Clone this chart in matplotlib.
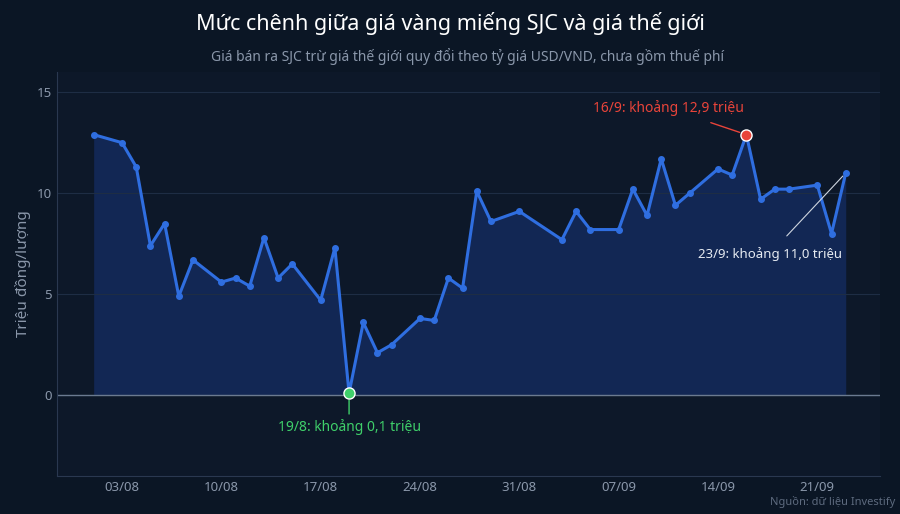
import matplotlib
matplotlib.use("Agg")
import matplotlib.pyplot as plt
import pandas as pd

plt.rcParams['font.family'] = ['Noto Sans', 'DejaVu Sans']

dates = ["2024-08-01","2024-08-03","2024-08-04","2024-08-05","2024-08-06","2024-08-07","2024-08-08",
         "2024-08-10","2024-08-11","2024-08-12","2024-08-13","2024-08-14","2024-08-15","2024-08-17",
         "2024-08-18","2024-08-19","2024-08-20","2024-08-21","2024-08-22","2024-08-24","2024-08-25",
         "2024-08-26","2024-08-27","2024-08-28","2024-08-29","2024-08-31","2024-09-03","2024-09-04",
         "2024-09-05","2024-09-07","2024-09-08","2024-09-09","2024-09-10","2024-09-11","2024-09-12",
         "2024-09-14","2024-09-15","2024-09-16","2024-09-17","2024-09-18","2024-09-19","2024-09-21",
         "2024-09-22","2024-09-23"]
values = [12.9,12.5,11.3,7.4,8.5,4.9,6.7,5.6,5.8,5.4,7.8,5.8,6.5,4.7,7.3,0.1,3.6,2.1,2.5,3.8,3.7,
          5.8,5.3,10.1,8.6,9.1,7.7,9.1,8.2,8.2,10.2,8.9,11.7,9.4,10.0,11.2,10.9,12.9,9.7,10.2,10.2,
          10.4,8.0,11.0]
tick_dates = ["2024-08-03","2024-08-10","2024-08-17","2024-08-24","2024-08-31","2024-09-07","2024-09-14","2024-09-21"]
tick_labels = ["03/08","10/08","17/08","24/08","31/08","07/09","14/09","21/09"]
min_date = "2024-08-19"
max_date = "2024-09-16"

x = pd.to_datetime(dates)
bg = "#0b1625"
fig = plt.figure(figsize=(9, 5.14), dpi=100, facecolor=bg)
ax = fig.add_axes([57/900, 38/514, 823/900, 404/514], facecolor="#0d1829")

line = "#2f6ee0"
ax.fill_between(x, values, 0, color="#1a3a8a", alpha=0.45, lw=0)
ax.plot(x, values, color=line, lw=2.2, marker="o", ms=4, zorder=3)
ax.axhline(0, color="#6b7a90", lw=1)

ax.set_ylim(-4, 16)
ax.set_xlim(pd.Timestamp("2024-07-29 10:00"), pd.Timestamp("2024-09-25 10:00"))
ax.set_yticks([0, 5, 10, 15])
ax.set_xticks(pd.to_datetime(tick_dates))
ax.set_xticklabels(tick_labels)
ax.grid(axis="y", color="#1e2d44", lw=0.8)
ax.tick_params(colors="#8a97aa", labelsize=9.5, length=0)
for s in ["top", "right"]:
    ax.spines[s].set_visible(False)
for s in ["left", "bottom"]:
    ax.spines[s].set_color("#2a3850")
ax.set_ylabel("Triệu đồng/lượng", color="#8a97aa", fontsize=11)

imin = dates.index(min_date); imax = dates.index(max_date)
ax.plot(x[imin], values[imin], "o", ms=8, mfc="#3fcf6a", mec="white", mew=1, zorder=5)
ax.plot(x[imax], values[imax], "o", ms=8, mfc="#e8443a", mec="white", mew=1, zorder=5)
ax.annotate("19/8: khoảng 0,1 triệu", (x[imin], values[imin]), xytext=(x[imin], -1.6),
            ha="center", va="center", color="#3fcf6a", fontsize=10, fontweight="bold",
            arrowprops=dict(arrowstyle="-", color="#3fcf6a", lw=1, shrinkB=5))
ax.annotate("16/9: khoảng 12,9 triệu", (x[imax], values[imax]), xytext=(pd.Timestamp("2024-09-10 12:00"), 14.2),
            ha="center", va="center", color="#e8443a", fontsize=10, fontweight="bold",
            arrowprops=dict(arrowstyle="-", color="#e8443a", lw=1, shrinkA=8, shrinkB=5))
ax.annotate("23/9: khoảng 11,0 triệu", (x[-1], values[-1]), xytext=(pd.Timestamp("2024-09-17 16:00"), 7.0),
            ha="center", va="center", color="#e6ebf2", fontsize=9.5,
            arrowprops=dict(arrowstyle="-", color="#cfd6e0", lw=0.8, shrinkA=8, shrinkB=3))

fig.text(0.5, 0.955, "Mức chênh giữa giá vàng miếng SJC và giá thế giới", ha="center", va="center",
         color="white", fontsize=15.5)
fig.text(0.52, 0.89, "Giá bán ra SJC trừ giá thế giới quy đổi theo tỷ giá USD/VND, chưa gồm thuế phí",
         ha="center", va="center", color="#8a97aa", fontsize=10)
fig.text(0.995, 0.012, "Nguồn: dữ liệu Investify", ha="right", va="bottom", color="#5d6a7e", fontsize=8)

fig.savefig("out.png", dpi=100, facecolor=bg)
